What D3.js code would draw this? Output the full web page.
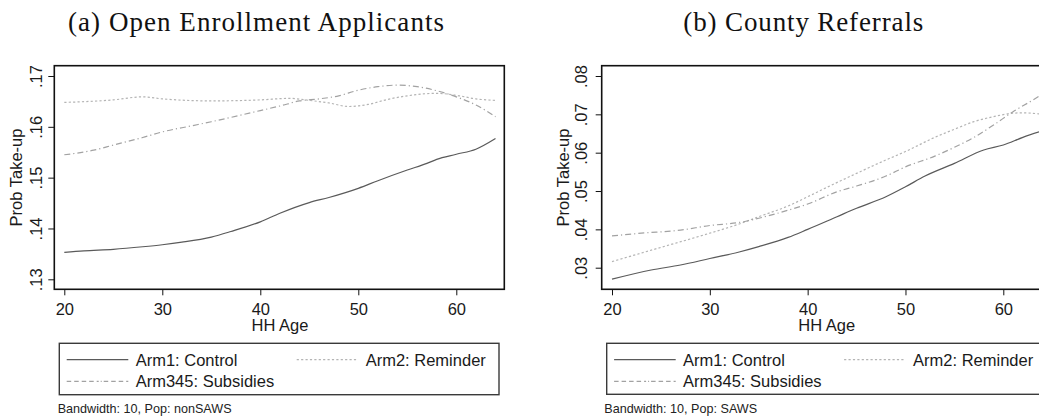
<!DOCTYPE html>
<html>
<head>
<meta charset="utf-8">
<script src="https://cdn.jsdelivr.net/npm/d3@7"></script>
<style>
  html, body { margin: 0; padding: 0; background: #fff; overflow: hidden; }
  svg { display: block; }
</style>
</head>
<body>
<svg id="chart" width="1039" height="416"></svg>
<script>
// ---- Data: smoothed take-up probability by household-head age ----
const xTicks = [20, 30, 40, 50, 60];
const seriesNames = ["Arm1: Control", "Arm2: Reminder", "Arm345: Subsidies"];

// (a) Open Enrollment Applicants (nonSAWS)
const openTicks = [0.13, 0.14, 0.15, 0.16, 0.17];
const openAgeArm1 = [20, 22, 25, 28, 30, 32, 35, 37, 40, 42, 45, 47, 50, 52, 55, 57, 58, 60, 62, 64];
const openArm1 = [.1353, .1356, .1359, .1364, .1368, .1373, .1383, .1394, .1413, .1430, .1451, .1461, .1479, .1494, .1515, .1528, .1536, .1546, .1556, .1577];
const openAgeArm2 = [20, 25, 28, 30, 35, 40, 43, 45, 47, 49, 51, 53, 55, 58, 60, 62, 64];
const openArm2 = [.1648, .1653, .1659, .1655, .1651, .1653, .1656, .1652, .1647, .1640, .1644, .1654, .1661, .1666, .1662, .1655, .1652];
const openAgeArm345 = [20, 23, 25, 28, 30, 33, 35, 38, 40, 42, 44, 46, 48, 50, 52, 54, 56, 58, 60, 62, 64];
const openArm345 = [.1545, .1554, .1564, .1579, .1590, .1602, .1610, .1623, .1632, .1641, .1651, .1655, .1661, .1672, .1679, .1682, .1679, .1671, .1659, .1643, .1620];

// (b) County Referrals (SAWS)
const countyTicks = [0.03, 0.04, 0.05, 0.06, 0.07, 0.08];
const countyAgeArm1 = [20, 24, 27, 30, 33, 35, 38, 40, 43, 45, 48, 50, 52, 55, 58, 60, 62, 64];
const countyArm1 = [.0270, .0294, .0307, .0324, .0341, .0355, .0379, .0400, .0433, .0455, .0485, .0511, .0539, .0572, .0607, .0620, .0640, .0657];
const countyAgeArm2 = [20, 25, 30, 33, 35, 38, 40, 42, 45, 48, 50, 53, 55, 57, 59, 61, 62, 64];
const countyArm2 = [.0316, .0353, .0390, .0414, .0433, .0461, .0485, .0510, .0546, .0581, .0603, .0640, .0661, .0681, .0694, .0703, .0704, .0700];
const countyAgeArm345 = [20, 23, 27, 30, 33, 35, 38, 40, 43, 45, 48, 50, 53, 55, 57, 59, 61, 63, 64];
const countyArm345 = [.0383, .0390, .0398, .0410, .0418, .0429, .0450, .0466, .0498, .0513, .0539, .0563, .0591, .0614, .0640, .0672, .0707, .0737, .0753];

// ---- Styles ----
const styles = [
  { color: "#5a5a5a", dash: null,        width: 1.2 },
  { color: "#b4b4b4", dash: "2.2,2.2",   width: 1.2 },
  { color: "#a2a2a2", dash: "6,3,1.2,3", width: 1.2 }
];
const legendDash = [null, "2.2,2.2", "4.5,3,4.5,3,4.5,3,4.5,3,2,2,1,2"];
const sansFont = "'Liberation Sans', Arial, sans-serif";
const serifFont = "'Liberation Serif', 'Times New Roman', serif";
const textColor = "#1a1a1a";

const panels = [
  {
    title: "(a) Open Enrollment Applicants", titleX: 256, titleW: 376,
    box: { x0: 54.3, y0: 65.7, x1: 504.3, y1: 289.3 },
    xRange: [64.3, 456.3], yDomain: [0.13, 0.17], yRange: [279.3, 76],
    yTicks: openTicks, yLabelGap: 12.6, xTitleX: 280,
    series: [[openAgeArm1, openArm1], [openAgeArm2, openArm2], [openAgeArm345, openArm345]],
    legend: { x0: 59.3, x1: 499, y0: 343.3, y1: 394.7 },
    note: "Bandwidth: 10, Pop: nonSAWS", noteX: 57.7
  },
  {
    title: "(b) County Referrals", titleX: 803.3, titleW: 240,
    box: { x0: 601.7, y0: 65.7, x1: 1050.5, y1: 289.3 },
    xRange: [612, 1003.3], yDomain: [0.03, 0.08], yRange: [267.7, 76],
    yTicks: countyTicks, yLabelGap: 15, xTitleX: 826.7,
    series: [[countyAgeArm1, countyArm1], [countyAgeArm2, countyArm2], [countyAgeArm345, countyArm345]],
    legend: { x0: 606.7, x1: 1045.5, y0: 343.3, y1: 394.3 },
    note: "Bandwidth: 10, Pop: SAWS", noteX: 604.3
  }
];

const svg = d3.select("#chart");
svg.append("rect").attr("width", 1039).attr("height", 416).attr("fill", "#fff");

const fmtTick = v => d3.format(".2f")(v).replace(/^0/, "");

panels.forEach(p => {
  const g = svg.append("g");
  const x = d3.scaleLinear().domain([20, 60]).range(p.xRange);
  const y = d3.scaleLinear().domain(p.yDomain).range(p.yRange);
  const b = p.box;

  // Title
  g.append("text")
    .attr("x", p.titleX).attr("y", 31)
    .attr("text-anchor", "middle")
    .attr("font-family", serifFont).attr("font-size", 27)
    .attr("textLength", p.titleW).attr("lengthAdjust", "spacing")
    .attr("fill", "#111")
    .text(p.title);

  // Series lines
  const line = d3.line()
    .x(d => x(d[0])).y(d => y(d[1]))
    .curve(d3.curveMonotoneX);
  p.series.forEach((s, i) => {
    const pts = s[0].map((a, k) => [a, s[1][k]]);
    g.append("path")
      .datum(pts)
      .attr("d", line)
      .attr("fill", "none")
      .attr("stroke", styles[i].color)
      .attr("stroke-width", styles[i].width)
      .attr("stroke-dasharray", styles[i].dash)
      .attr("stroke-linejoin", "round");
  });

  // Plot frame
  g.append("rect")
    .attr("x", b.x0).attr("y", b.y0)
    .attr("width", b.x1 - b.x0).attr("height", b.y1 - b.y0)
    .attr("fill", "none").attr("stroke", "#111").attr("stroke-width", 1.6);

  // X axis ticks and labels
  const xAxis = d3.axisBottom(x).tickValues(xTicks).tickSize(6).tickPadding(7.5);
  const xg = g.append("g").attr("transform", `translate(0,${b.y1})`).call(xAxis);
  xg.select(".domain").remove();
  xg.selectAll(".tick line").attr("stroke", "#111").attr("stroke-width", 1);
  xg.selectAll(".tick text")
    .attr("font-family", sansFont).attr("font-size", 16.5)
    .attr("fill", textColor).attr("dy", "0.71em");

  g.append("text")
    .attr("x", p.xTitleX)
    .attr("y", 331)
    .attr("text-anchor", "middle")
    .attr("font-family", sansFont).attr("font-size", 16.5)
    .attr("fill", textColor)
    .text("HH Age");

  // Y axis ticks and rotated labels
  const yAxis = d3.axisLeft(y).tickValues(p.yTicks).tickSize(6).tickFormat(fmtTick);
  const yg = g.append("g").attr("transform", `translate(${b.x0},0)`).call(yAxis);
  yg.select(".domain").remove();
  yg.selectAll(".tick line").attr("stroke", "#111").attr("stroke-width", 1);
  yg.selectAll(".tick text")
    .attr("x", null).attr("dy", null)
    .attr("transform", `translate(${-p.yLabelGap},0) rotate(-90)`)
    .attr("text-anchor", "middle")
    .attr("font-family", sansFont).attr("font-size", 16.5)
    .attr("fill", textColor);

  g.append("text")
    .attr("transform", `translate(${b.x0 - 32.5},${(b.y0 + b.y1) / 2}) rotate(-90)`)
    .attr("text-anchor", "middle")
    .attr("font-family", sansFont).attr("font-size", 16.5)
    .attr("fill", textColor)
    .text("Prob Take-up");

  // Legend
  const L = p.legend;
  g.append("rect")
    .attr("x", L.x0).attr("y", L.y0)
    .attr("width", L.x1 - L.x0).attr("height", L.y1 - L.y0)
    .attr("fill", "none").attr("stroke", "#3a3a3a").attr("stroke-width", 1.4);
  const slots = [
    { dx: 7.4, dy: 16.3 },
    { dx: 237.4, dy: 16.3 },
    { dx: 7.4, dy: 38 }
  ];
  slots.forEach((s, i) => {
    const sx = L.x0 + s.dx, sy = L.y0 + s.dy;
    g.append("line")
      .attr("x1", sx).attr("x2", sx + 61.6)
      .attr("y1", sy).attr("y2", sy)
      .attr("stroke", styles[i].color)
      .attr("stroke-width", styles[i].width)
      .attr("stroke-dasharray", legendDash[i]);
    g.append("text")
      .attr("x", sx + 69).attr("y", sy + 6)
      .attr("font-family", sansFont).attr("font-size", 16.5)
      .attr("fill", textColor)
      .text(seriesNames[i]);
  });

  // Footnote
  g.append("text")
    .attr("x", p.noteX).attr("y", 413)
    .attr("font-family", sansFont).attr("font-size", 12.6)
    .attr("fill", "#222")
    .text(p.note);
});
</script>
</body>
</html>
